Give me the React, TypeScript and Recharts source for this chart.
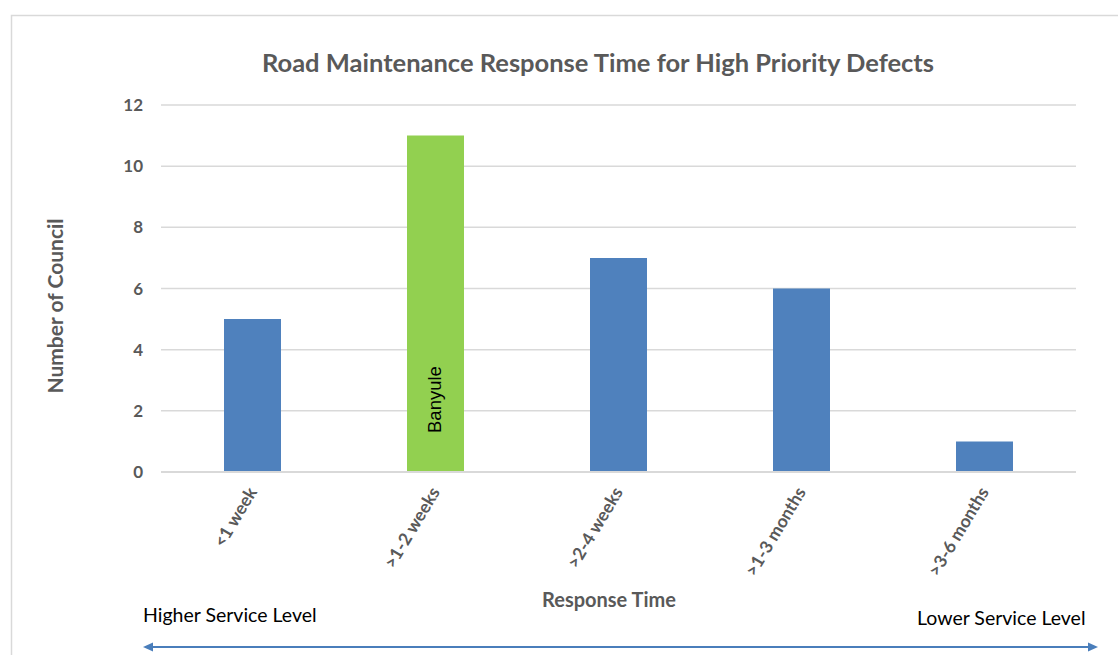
import { BarChart, Bar, XAxis, YAxis, CartesianGrid, Cell, LabelList } from "recharts";

const CATEGORIES = ["<1 week", ">1-2 weeks", ">2-4 weeks", ">1-3 months", ">3-6 months"];
const COUNCILS = [5, 11, 7, 6, 1];
const BAR_NOTES = ["", "Banyule", "", "", ""];
const HIGHLIGHT = [false, true, false, false, false];
const Y_TICKS = [0, 2, 4, 6, 8, 10, 12];

const BLUE = "#4f81bd";
const GREEN = "#92d050";
const GRID = "#d9d9d9";
const TEXT = "#595959";
const FONT = "Lato, 'Open Sans', sans-serif";

const data = CATEGORIES.map((range, i) => ({
  range,
  value: COUNCILS[i],
  note: BAR_NOTES[i],
  highlight: HIGHLIGHT[i],
}));

function SlantedTick(props: any) {
  const { x, y, payload } = props;
  return (
    <g transform={`translate(${x + 5},${y + 12})`}>
      <text
        x={0}
        y={0}
        textAnchor="end"
        transform="rotate(-59)"
        fontFamily={FONT}
        fontWeight={700}
        fontSize={17.5}
        fill={TEXT}
      >
        {payload.value}
      </text>
    </g>
  );
}

function NoteLabel(props: any) {
  const { x, y, width, height, value } = props;
  if (!value) return null;
  const tx = x + width / 2 + 5;
  const ty = y + height - 39;
  return (
    <text
      x={tx}
      y={ty}
      transform={`rotate(-90, ${tx}, ${ty})`}
      textAnchor="start"
      fontFamily="'Liberation Sans', Arial, sans-serif"
      fontSize={18.5}
      fill="#000"
    >
      {value}
    </text>
  );
}

export default function App() {
  return (
    <div style={{ position: "absolute", left: 0, top: 0, width: 1118, height: 655, background: "#fff", overflow: "hidden" }}>
      <svg width={1118} height={655} style={{ position: "absolute", left: 0, top: 0 }}>
        <path d="M11.5 655 L11.5 15.5 L1118 15.5" fill="none" stroke={GRID} strokeWidth={1.5} />
        <text x={598} y={72} textAnchor="middle" fontFamily={FONT} fontWeight={700} fontSize={25.5} fill={TEXT}>
          Road Maintenance Response Time for High Priority Defects
        </text>
        <text
          x={63}
          y={306}
          textAnchor="middle"
          transform="rotate(-90, 63, 306)"
          fontFamily={FONT}
          fontWeight={700}
          fontSize={21}
          fill={TEXT}
        >
          Number of Council
        </text>
        <text x={609} y={607} textAnchor="middle" fontFamily={FONT} fontWeight={700} fontSize={20} fill={TEXT}>
          Response Time
        </text>
        <text x={143} y={622} fontFamily={FONT} fontSize={19.5} fill="#000">
          Higher Service Level
        </text>
        <text x={917} y={625} fontFamily={FONT} fontSize={19.5} fill="#000">
          Lower Service Level
        </text>
        <line x1={150} y1={647} x2={1090} y2={647} stroke="#4a7ebb" strokeWidth={2} />
        <path d="M143 647 L153 642.5 L153 651.5 Z" fill="#4a7ebb" />
        <path d="M1098 647 L1088 642.5 L1088 651.5 Z" fill="#4a7ebb" />
      </svg>
      <div style={{ position: "absolute", left: 0, top: 0 }}>
        <BarChart
          width={1118}
          height={655}
          data={data}
          margin={{ top: 105, right: 42, bottom: 83, left: 101 }}
          barSize={57}
        >
          <CartesianGrid vertical={false} stroke={GRID} strokeWidth={1.5} />
          <XAxis
            dataKey="range"
            height={100}
            interval={0}
            tickLine={false}
            axisLine={{ stroke: GRID, strokeWidth: 2 }}
            tick={<SlantedTick />}
          />
          <YAxis
            width={60}
            domain={[0, 12]}
            ticks={Y_TICKS}
            interval={0}
            axisLine={false}
            tickLine={false}
            tickMargin={12}
            tick={{ fontFamily: FONT, fontWeight: 700, fontSize: 17, fill: TEXT }}
          />
          <Bar dataKey="value" isAnimationActive={false}>
            {data.map((d) => (
              <Cell key={d.range} fill={d.highlight ? GREEN : BLUE} />
            ))}
            <LabelList dataKey="note" content={<NoteLabel />} />
          </Bar>
        </BarChart>
      </div>
    </div>
  );
}
